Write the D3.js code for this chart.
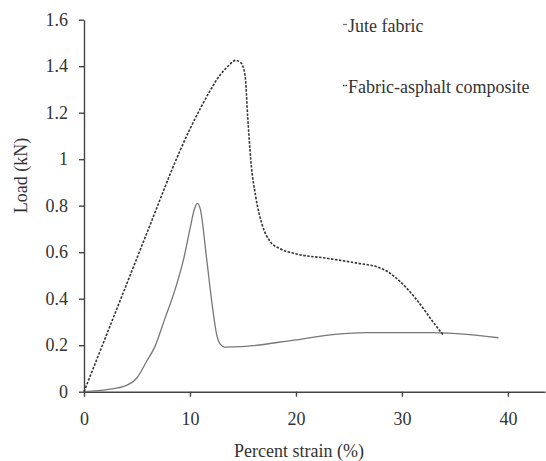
<!DOCTYPE html>
<html>
<head>
<meta charset="utf-8">
<style>
  body { margin: 0; background: #fff; }
  svg { display: block; }
  text { font-family: "Liberation Serif", "Times New Roman", serif; fill: #333; }
  .axis path, .axis line { stroke: #444; stroke-width: 1.4; }
  .axis text { font-size: 18px; fill: #333; }
</style>
</head>
<body>
<svg width="546" height="461"></svg>
<script src="https://d3js.org/d3.v7.min.js"></script>
<script>

// strain (%) and load (kN)
var juteStrain = [0, 2.3, 3.9, 5.0, 5.9, 6.7, 7.6, 8.6, 9.4, 10.0, 10.45, 10.7, 11.0, 11.55, 12.05, 12.5, 12.85, 13.3, 14.9, 19.8, 23.7, 26.7, 32.9, 36.1, 39.1];
var juteLoad   = [0, 0.01, 0.025, 0.06, 0.13, 0.195, 0.31, 0.44, 0.57, 0.70, 0.79, 0.81, 0.78, 0.58, 0.39, 0.25, 0.205, 0.192, 0.194, 0.222, 0.247, 0.254, 0.254, 0.247, 0.232];

var compStrain = [0, 2, 4, 6, 9, 10, 11, 11.9, 12.8, 13.6, 14.3, 14.8, 15.2, 15.45, 15.75, 16.2, 16.8, 17.5, 18.5, 19.8, 22.9, 25.9, 27.7, 28.7, 29.8, 31.4, 33.1, 33.9];
var compLoad   = [0, 0.23, 0.46, 0.69, 1.03, 1.13, 1.22, 1.295, 1.36, 1.40, 1.425, 1.415, 1.36, 1.18, 0.99, 0.84, 0.72, 0.65, 0.615, 0.595, 0.574, 0.552, 0.536, 0.515, 0.475, 0.395, 0.29, 0.244];

var seriesNames = ["Jute fabric", "Fabric-asphalt composite"];
var xTicks = [0, 10, 20, 30, 40];
var yTicks = [0, 0.2, 0.4, 0.6, 0.8, 1, 1.2, 1.4, 1.6];

var svg = d3.select("svg");

var x = d3.scaleLinear().domain([0, 43.5]).range([84, 545]);
var y = d3.scaleLinear().domain([0, 1.6]).range([391.7, 19.7]);

// axes
svg.append("g")
    .attr("class", "axis")
    .attr("transform", "translate(0," + y(0) + ")")
    .call(d3.axisBottom(x).tickValues(xTicks).tickSizeInner(5).tickSizeOuter(0).tickPadding(16));

svg.append("g")
    .attr("class", "axis")
    .attr("transform", "translate(" + x(0) + ",0)")
    .call(d3.axisLeft(y).tickValues(yTicks).tickSizeInner(5).tickSizeOuter(0).tickPadding(11)
      .tickFormat(function(d) { return String(+d.toFixed(1)); }));

// curves
var line = d3.line().curve(d3.curveMonotoneX)
    .x(function(d) { return x(d[0]); })
    .y(function(d) { return y(d[1]); });

var jute = juteStrain.map(function(s, i) { return [s, juteLoad[i]]; });
var comp = compStrain.map(function(s, i) { return [s, compLoad[i]]; });

svg.append("path")
    .datum(jute)
    .attr("fill", "none")
    .attr("stroke", "#777")
    .attr("stroke-width", 1.3)
    .attr("d", line);

svg.append("path")
    .datum(comp)
    .attr("fill", "none")
    .attr("stroke", "#333")
    .attr("stroke-width", 1.6)
    .attr("stroke-dasharray", "2.5,1.5")
    .attr("d", line);

// axis titles
svg.append("text")
    .attr("x", 299)
    .attr("y", 457)
    .attr("text-anchor", "middle")
    .attr("font-size", 18)
    .text("Percent strain (%)");

svg.append("text")
    .attr("transform", "translate(27,175.5) rotate(-90)")
    .attr("text-anchor", "middle")
    .attr("font-size", 18)
    .text("Load (kN)");

// legend
var legend = svg.selectAll(".legend")
    .data(seriesNames)
    .enter().append("g")
    .attr("class", "legend")
    .attr("transform", function(d, i) { return "translate(343," + (31.5 + i * 61) + ")"; });

legend.append("line")
    .attr("x1", 0).attr("x2", 4)
    .attr("y1", -7).attr("y2", -7)
    .attr("stroke", function(d, i) { return i ? "#333" : "#777"; })
    .attr("stroke-width", 1.3)
    .attr("stroke-dasharray", function(d, i) { return i ? "1.5,1" : null; });

legend.append("text")
    .attr("x", 5)
    .attr("font-size", 18)
    .text(function(d) { return d; });

</script>
</body>
</html>
